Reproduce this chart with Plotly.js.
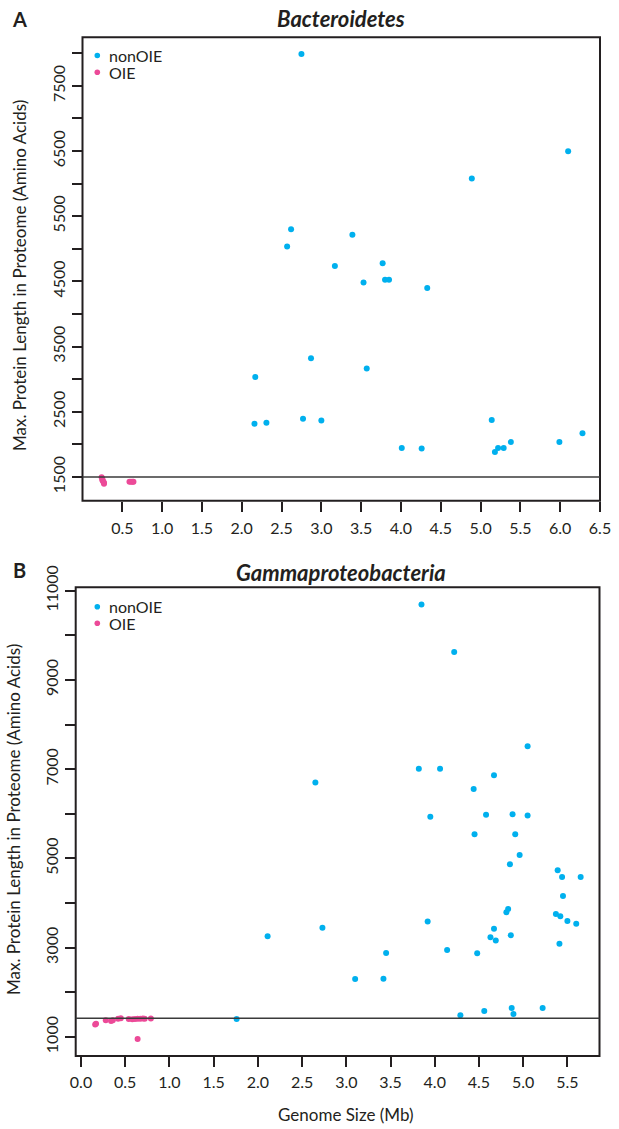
<!DOCTYPE html>
<html>
<head>
<meta charset="utf-8">
<script src="https://cdn.plot.ly/plotly-3.0.1.min.js"></script>
<style>html,body{margin:0;padding:0;background:#fff;}#chart{width:619px;height:1129px;}</style>
</head>
<body>
<div id="chart"></div>
<script>
// Panel A: Bacteroidetes
const aNonOIE_x = [2.75, 2.62, 3.39, 2.57, 3.17, 3.53, 6.10, 4.89, 3.77, 3.80, 3.85, 4.33, 2.87, 3.57, 2.17, 2.16, 2.31, 2.77, 3.00, 5.14, 6.28, 4.01, 4.26, 5.18, 5.22, 5.29, 5.38, 5.99];
const aNonOIE_y = [7990, 5300, 5215, 5035, 4735, 4485, 6495, 6080, 4780, 4525, 4525, 4400, 3320, 3165, 3035, 2315, 2330, 2395, 2365, 2375, 2170, 1945, 1935, 1885, 1945, 1945, 2035, 2035];
const aOIE_x = [0.24, 0.25, 0.25, 0.26, 0.27, 0.27, 0.59, 0.61, 0.63, 0.64];
const aOIE_y = [1495, 1470, 1450, 1430, 1410, 1395, 1425, 1425, 1425, 1428];
const aThreshold = 1500;

// Panel B: Gammaproteobacteria
const bNonOIE_x = [3.85, 4.22, 5.05, 3.82, 4.06, 4.67, 4.44, 3.95, 4.58, 4.88, 5.05, 4.45, 4.91, 4.96, 4.85, 5.39, 5.44, 5.65, 5.45, 4.83, 4.81, 5.37, 5.42, 5.50, 5.60, 3.92, 2.73, 2.11, 4.67, 4.63, 4.69, 4.86, 5.41, 4.14, 3.45, 4.48, 3.10, 3.42, 4.29, 4.56, 4.87, 4.89, 5.22, 1.76, 2.65];
const bNonOIE_y = [10690, 9625, 7515, 7010, 7010, 6865, 6555, 5935, 5980, 5990, 5965, 5540, 5540, 5080, 4870, 4735, 4585, 4585, 4160, 3870, 3795, 3755, 3705, 3600, 3540, 3590, 3450, 3255, 3425, 3235, 3160, 3280, 3090, 2950, 2880, 2875, 2300, 2305, 1485, 1585, 1650, 1515, 1650, 1405, 6705];
const bOIE_x = [0.16, 0.17, 0.28, 0.34, 0.36, 0.42, 0.45, 0.54, 0.58, 0.61, 0.64, 0.67, 0.70, 0.72, 0.79, 0.64];
const bOIE_y = [1280, 1295, 1375, 1360, 1375, 1410, 1420, 1405, 1400, 1405, 1410, 1410, 1415, 1410, 1415, 955];
const bThreshold = 1420;

// Tick labels
const aXTicks = [0.5, 1.0, 1.5, 2.0, 2.5, 3.0, 3.5, 4.0, 4.5, 5.0, 5.5, 6.0, 6.5];
const aXTickText = ["0.5", "1.0", "1.5", "2.0", "2.5", "3.0", "3.5", "4.0", "4.5", "5.0", "5.5", "6.0", "6.5"];
const aYTicks = [1500, 2000, 2500, 3000, 3500, 4000, 4500, 5000, 5500, 6000, 6500, 7000, 7500, 8000];
const aYTickText = ["1500", "", "2500", "", "3500", "", "4500", "", "5500", "", "6500", "", "7500", ""];
const bXTicks = [0.0, 0.5, 1.0, 1.5, 2.0, 2.5, 3.0, 3.5, 4.0, 4.5, 5.0, 5.5];
const bXTickText = ["0.0", "0.5", "1.0", "1.5", "2.0", "2.5", "3.0", "3.5", "4.0", "4.5", "5.0", "5.5"];
const bYTicks = [1000, 2000, 3000, 4000, 5000, 6000, 7000, 8000, 9000, 10000, 11000];
const bYTickText = ["1000", "", "3000", "", "5000", "", "7000", "", "9000", "", "11000"];
const seriesNames = ["nonOIE", "OIE"];

const W = 619, H = 1129;
const CYAN = '#00B0EE', PINK = '#EC4A98', INK = '#231F20';
const FONT = 'Lato, "Open Sans", sans-serif';
const px = v => v / W;
const py = v => 1 - v / H;

const traces = [
  {x: aNonOIE_x, y: aNonOIE_y, xaxis: 'x', yaxis: 'y', type: 'scatter', mode: 'markers', name: seriesNames[0], showlegend: false, marker: {color: CYAN, size: 6}},
  {x: aOIE_x, y: aOIE_y, xaxis: 'x', yaxis: 'y', type: 'scatter', mode: 'markers', name: seriesNames[1], showlegend: false, marker: {color: PINK, size: 6}},
  {x: bNonOIE_x, y: bNonOIE_y, xaxis: 'x2', yaxis: 'y2', type: 'scatter', mode: 'markers', name: seriesNames[0], showlegend: false, marker: {color: CYAN, size: 6}},
  {x: bOIE_x, y: bOIE_y, xaxis: 'x2', yaxis: 'y2', type: 'scatter', mode: 'markers', name: seriesNames[1], showlegend: false, marker: {color: PINK, size: 6}}
];

const axCommon = {showgrid: false, zeroline: false, showline: false, ticks: 'outside', tickcolor: INK, tickwidth: 2, ticklen: 10, tickmode: 'array', tickfont: {family: FONT, size: 16, color: INK}};

// legend keys (drawn manually for tight R-style spacing)
function legendKey(cx, cy, color) {
  const r = 2.8;
  return {type: 'circle', xref: 'paper', yref: 'paper', x0: px(cx - r), x1: px(cx + r), y0: py(cy + r), y1: py(cy - r), fillcolor: color, line: {width: 0}};
}
function ann(text, x, y, size, opts) {
  return Object.assign({text: text, xref: 'paper', yref: 'paper', x: px(x), y: py(y), xanchor: 'center', yanchor: 'middle', showarrow: false, font: {family: FONT, size: size, color: INK}}, opts || {});
}

const layout = {
  width: W, height: H,
  margin: {l: 0, r: 0, t: 0, b: 0},
  paper_bgcolor: '#fff', plot_bgcolor: '#fff',
  font: {family: FONT, color: INK},
  showlegend: false,
  xaxis: Object.assign({}, axCommon, {domain: [px(82.5), px(600)], range: [0, 6.5], tickvals: aXTicks, ticktext: aXTickText, anchor: 'y', ticklabelstandoff: 3}),
  yaxis: Object.assign({}, axCommon, {domain: [py(500.7), py(37.3)], range: [1136, 8245], tickvals: aYTicks, ticktext: aYTickText, tickangle: -90, anchor: 'x'}),
  xaxis2: Object.assign({}, axCommon, {domain: [px(75.7), px(599.5)], range: [-0.06, 5.863], tickvals: bXTicks, ticktext: bXTickText, anchor: 'y2', ticklabelstandoff: 2}),
  yaxis2: Object.assign({}, axCommon, {domain: [py(1056), py(587.3)], range: [574, 11076], tickvals: bYTicks, ticktext: bYTickText, tickangle: -90, anchor: 'x2'}),
  shapes: [
    {type: 'rect', xref: 'x domain', yref: 'y domain', x0: 0, x1: 1, y0: 0, y1: 1, line: {color: INK, width: 2}},
    {type: 'rect', xref: 'x2 domain', yref: 'y2 domain', x0: 0, x1: 1, y0: 0, y1: 1, line: {color: INK, width: 2}},
    {type: 'line', xref: 'x domain', yref: 'y', x0: 0, x1: 1, y0: aThreshold, y1: aThreshold, line: {color: '#3a3a3a', width: 1.5}},
    {type: 'line', xref: 'x2 domain', yref: 'y2', x0: 0, x1: 1, y0: bThreshold, y1: bThreshold, line: {color: '#3a3a3a', width: 1.5}},
    legendKey(97.3, 55.5, CYAN), legendKey(97.3, 72.3, PINK),
    legendKey(97.3, 606.7, CYAN), legendKey(97.3, 623.3, PINK)
  ],
  annotations: [
    ann('<b>A</b>', 19, 19, 20),
    ann('<b><i>Bacteroidetes</i></b>', 341, 19, 22),
    ann('Max. Protein Length in Proteome (Amino Acids)', 19, 276, 17, {textangle: -90}),
    ann(seriesNames[0], 107, 55, 16, {xanchor: 'left'}),
    ann(seriesNames[1], 107, 72.5, 16, {xanchor: 'left'}),
    ann('<b>B</b>', 19, 570, 20),
    ann('<b><i>Gammaproteobacteria</i></b>', 341, 572, 22),
    ann('Max. Protein Length in Proteome (Amino Acids)', 13, 820, 17, {textangle: -90}),
    ann(seriesNames[0], 107, 606.5, 16, {xanchor: 'left'}),
    ann(seriesNames[1], 107, 623.5, 16, {xanchor: 'left'}),
    ann('Genome Size (Mb)', 346, 1114, 17)
  ]
};

Plotly.newPlot('chart', traces, layout, {staticPlot: true, displayModeBar: false});
</script>
</body>
</html>
